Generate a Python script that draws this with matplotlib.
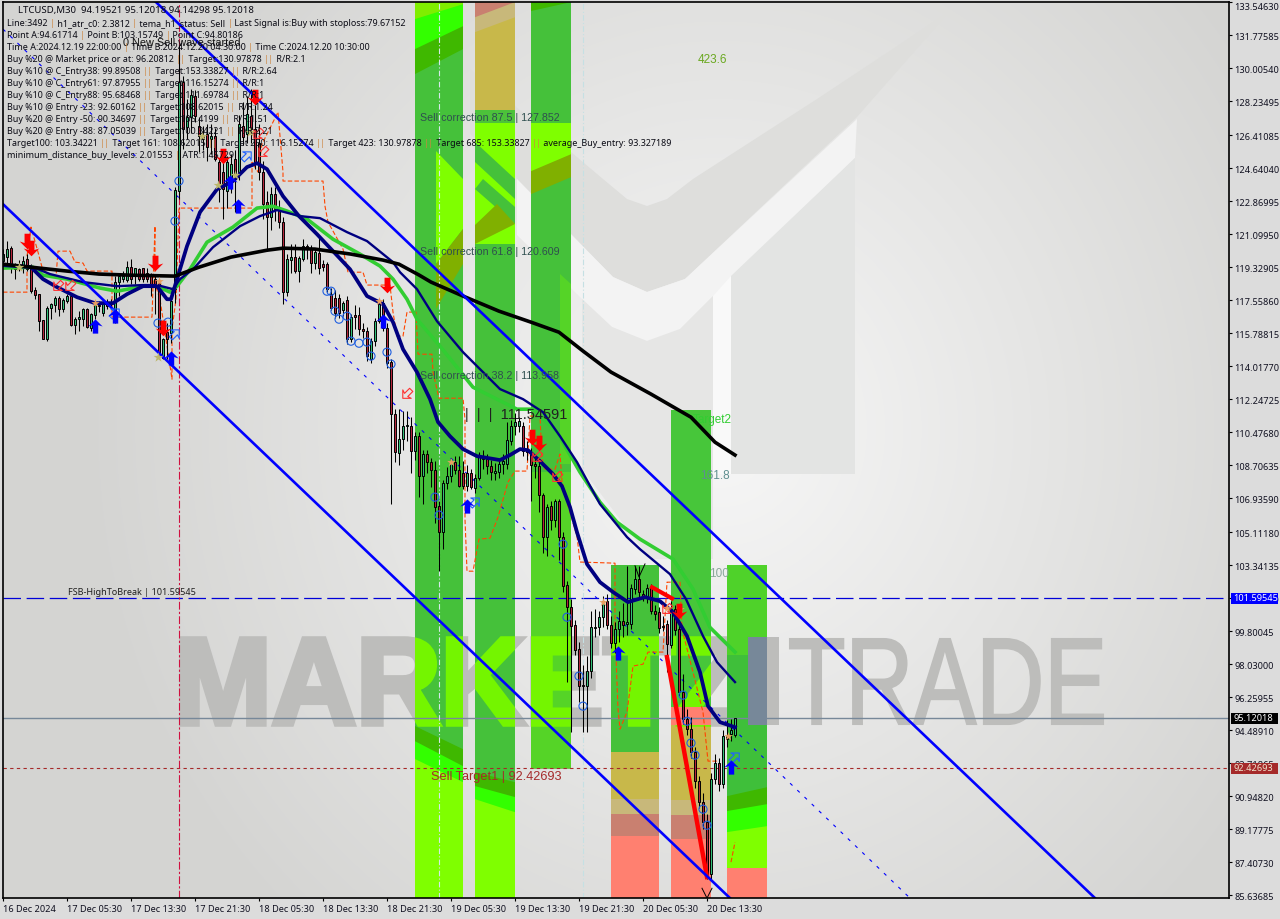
import re
import numpy as np
import matplotlib
matplotlib.use('Agg')
import matplotlib.pyplot as plt
from matplotlib.font_manager import FontProperties
from matplotlib.patches import PathPatch, Polygon, Rectangle
from matplotlib.path import Path
from matplotlib.textpath import TextPath
from matplotlib.transforms import Affine2D

W, H = 1280, 920
UI_FONT = 'Noto Sans'

# candles, one per M30 bar
opens = [119.66,119.84,120.37,119.48,119.3,119.3,119.75,119.3,118.1,117.87,
         116.47,115.45,117.15,117.28,117.65,117.06,117.51,117.78,116.2,116.53,
         116.56,117.06,116.08,116.74,117.28,116.88,117.42,117.33,116.97,118.53,
         118.68,118.64,119.35,118.94,119.21,119.25,119.03,118.89,118.68,118.5,
         114.47,115.85,115.81,118.14,123.4,129.25,126.83,127.37,128.5,126.9,
         126.35,126.46,126.2,126.35,124.95,124.4,123.4,124.0,125.1,124.4,
         126.9,126.46,127.42,126.73,126.0,124.4,122.8,122.0,123.24,122.43,
         121.74,117.98,119.71,119.84,119.12,119.75,120.46,120.29,119.57,120.07,
         119.48,119.48,117.87,117.69,117.69,117.0,117.55,115.45,116.74,116.74,
         115.99,115.9,114.38,115.36,116.44,117.42,116.08,114.22,111.44,109.34,
         110.09,110.8,110.79,109.45,110.25,108.1,109.29,108.86,108.43,106.5,
         105.1,107.73,108.1,108.86,108.43,108.3,107.57,108.27,107.46,108.0,
         109.18,109.02,108.65,108.3,108.32,108.75,108.75,110.0,110.79,110.79,
         110.79,109.55,109.4,108.75,108.65,107.1,104.84,106.5,105.75,106.77,
         104.84,102.26,101.08,100.12,98.82,96.9,96.84,97.65,99.95,100.0,
         100.54,101.4,100.12,99.15,99.9,100.33,100.2,100.2,102.05,102.58,
         101.8,101.6,102.1,100.87,100.8,100.0,100.17,99.04,100.97,99.9,
         96.52,95.07,94.54,93.3,91.74,90.62,89.55,86.76,91.85,92.71,
         91.6,94.0,94.3,94.195]
closes = [120.0,120.29,119.48,119.21,119.48,119.66,119.21,118.05,117.82,116.44,
          115.49,117.15,117.33,117.69,117.1,117.56,117.78,116.2,116.56,116.62,
          117.06,116.13,116.8,117.33,117.24,117.33,117.24,117.42,118.53,118.82,
          118.82,119.35,118.68,119.25,118.68,118.68,118.68,118.35,118.32,114.56,
          115.49,115.49,117.51,123.45,129.25,126.73,127.37,128.55,127.42,126.35,
          126.2,125.76,126.35,125.12,123.5,123.5,124.95,124.85,124.2,127.0,
          126.3,127.53,126.73,124.95,124.4,122.7,122.0,123.24,122.43,121.74,
          117.98,119.75,119.84,119.12,119.8,120.46,120.29,119.57,120.11,119.3,
          119.33,118.14,117.15,116.88,116.88,117.42,115.45,116.62,116.62,115.99,
          115.9,114.56,115.36,116.44,117.33,116.08,114.2,111.44,109.4,110.09,
          110.79,110.85,109.45,110.25,108.1,109.29,108.86,108.43,106.45,105.1,
          107.73,108.1,108.86,108.43,107.57,107.57,108.3,107.5,108.0,109.18,
          109.02,108.65,108.32,108.4,108.75,108.9,110.04,110.79,111.0,111.06,
          109.45,109.4,108.7,108.65,107.1,104.84,106.45,105.75,106.77,104.84,
          102.2,101.08,100.06,98.77,96.84,96.84,97.65,100.0,100.0,100.54,
          101.4,100.12,99.15,99.9,100.33,100.12,100.3,102.1,102.58,101.89,
          101.65,102.1,100.87,100.7,99.95,100.06,99.1,100.97,99.85,96.52,
          95.07,94.54,93.3,91.74,90.62,89.55,86.76,91.85,92.71,91.6,
          94.16,94.16,94.5,95.12]
highs = [120.3,120.73,120.46,119.57,119.7,119.9,120.02,119.48,118.23,117.87,
         116.47,117.24,117.42,117.78,117.78,117.64,117.87,117.87,116.62,116.97,
         117.15,117.15,116.88,117.42,117.5,117.51,117.6,117.6,118.85,119.0,
         119.12,119.66,119.75,119.3,119.3,119.3,119.25,119.0,118.82,118.68,
         115.54,116.35,117.6,123.6,131.23,129.6,128.34,128.9,128.8,127.4,
         126.9,127.0,127.0,126.8,125.2,125.3,125.3,125.4,125.6,127.5,
         128.2,128.5,128.9,128.0,127.0,125.0,123.4,123.6,123.6,122.9,
         122.0,120.0,120.55,120.55,119.9,120.82,120.55,120.5,120.3,120.9,
         119.7,119.6,118.2,118.1,117.9,117.5,117.8,116.8,117.3,117.2,
         116.3,116.1,115.5,116.6,117.6,117.6,116.3,114.4,111.7,111.7,
         111.6,111.6,111.3,110.5,110.5,109.5,109.5,109.1,108.9,106.8,
         107.9,108.6,109.1,109.2,109.2,108.9,108.7,108.5,108.2,109.4,
         109.5,109.3,109.0,108.8,109.0,109.3,111.0,111.1,111.5,111.3,
         111.0,110.0,109.6,109.2,108.9,107.2,106.6,106.8,106.9,106.9,
         105.1,102.5,101.5,100.4,99.2,98.0,98.45,100.9,101.0,100.9,
         101.7,101.8,100.6,100.3,100.9,101.3,103.3,102.3,103.3,103.3,
         102.0,102.3,102.3,101.2,101.1,100.6,100.4,101.4,101.2,100.2,
         97.5,95.6,95.2,93.6,92.0,91.1,90.0,92.2,93.2,93.0,
         94.5,95.0,95.1,95.12]
lows = [119.3,119.57,119.0,118.68,119.1,119.0,119.12,117.96,117.6,115.9,
        115.45,115.36,116.53,116.9,116.7,116.9,117.42,116.17,115.72,115.9,
        116.17,116.08,115.9,116.53,116.9,116.7,117.1,117.15,116.35,117.78,
        118.5,118.5,118.41,118.41,118.58,118.5,118.5,117.78,116.8,114.38,
        114.38,114.38,115.27,117.4,123.0,125.65,126.2,126.5,127.1,125.5,
        125.6,125.0,125.4,125.0,122.8,121.9,122.5,123.3,122.3,124.0,
        125.9,126.0,126.0,124.6,124.0,121.9,120.2,121.3,121.8,121.4,
        117.33,117.8,119.0,119.03,118.5,119.66,119.75,119.03,119.2,118.94,
        119.1,118.0,117.0,116.6,116.6,116.7,115.2,115.3,116.0,115.7,
        115.5,114.3,114.2,115.1,116.3,115.9,113.9,106.6,108.86,108.7,
        109.5,110.0,108.3,109.0,107.0,106.6,108.3,107.5,105.6,103.0,
        104.2,107.4,107.8,108.2,107.5,107.4,107.3,107.4,107.2,107.9,
        108.5,108.2,107.9,107.9,108.0,108.2,108.5,109.8,110.3,110.5,
        109.2,109.0,106.8,108.0,106.2,104.0,103.8,105.2,105.4,103.6,
        101.9,97.06,94.4,98.5,96.0,94.4,94.4,97.3,99.5,99.6,
        100.0,99.9,98.9,98.6,99.2,99.5,99.6,99.9,101.8,101.6,
        101.4,101.3,100.7,100.4,99.7,99.8,97.6,98.9,99.6,96.3,
        94.8,94.2,93.0,91.4,90.3,89.2,86.5,86.5,91.6,91.2,
        91.4,93.6,93.9,94.14]

# moving averages: bar number, price
black_ma_x = [0,7,16,24,32,43,49,57,66,70,78,87,95,99,104,107,115,124,132,139,145,152,162,172,178,183]
black_ma_y = [119.48,119.32,119.11,118.95,118.89,118.84,119.32,119.86,120.23,120.34,120.29,120.02,119.7,
              119.48,118.9,118.52,117.77,116.96,116.37,115.83,114.82,113.69,112.51,111.27,109.93,109.24]
fast_ma_x = [0,7,10,13.5,18.5,23,27.5,31,35,38.5,41,42,43.5,46,49.25,53.5,57.5,61,63.5,66,70,74,78.5,82.5,86.75,
             91,95,97.5,100,103.5,106.75,108.75,111.75,115,118.5,124.25,126.75,129.25,131.25,134.25,137.5,139.75,
             141.75,143.5,146,149.25,152.5,156.25,160.5,164.25,167.5,171,174.25,176.25,179.25,183]
fast_ma_y = [119.43,119.32,118.68,118.25,117.71,117.39,117.39,117.87,118.3,118.3,117.6,117.6,118.68,120.45,122.27,
             123.5,123.94,124.69,124.9,124.58,123.13,122.06,121.09,120.18,119.21,117.77,117.34,116.37,114.92,113.69,
             112.24,111.01,110.25,109.56,109.18,108.97,109.24,109.56,109.5,108.91,108.22,107.57,106.45,105.1,103.39,
             102.42,101.89,101.35,101.62,101.4,100.81,99.53,97.59,95.77,94.91,94.64]
slow_ma_x = [0,7.5,11.75,20,28.5,35,38.5,42.5,44.25,47.5,52.5,59.25,64.25,68.5,74.25,79.25,86,91,97.5,99.25,103.5,
             108.5,115,124.25,130,135,139.25,143.5,149.25,156,159.25,166.75,170.75,175,178.5,183]
slow_ma_y = [119.48,119.32,118.95,118.52,118.3,118.36,118.36,118.14,118.68,119.21,120.39,121.52,122.06,122.38,122.06,
             121.95,121.2,120.72,119.59,119.05,118.14,116.42,114.76,112.78,112.24,111.54,110.25,108.86,106.61,104.84,
             104.19,102.85,101.51,99.53,98.13,97.06]
green_ma_x = [0,7.5,10,16,24.25,28.5,35,38.5,41.75,43.5,46.75,51,57.5,63.5,67.5,71,76,82.5,89.25,94.25,97.5,101,103.5,
              109.25,117.5,128.5,132.5,138.5,144.25,149.25,153.5,159.25,167.5,172.5,176.75,183]
green_ma_y = [119.27,119.32,118.89,118.68,118.2,118.03,118.3,118.3,117.98,118.3,119.21,120.66,121.47,122.49,122.59,
              122.33,121.9,120.82,120.02,119.38,118.68,117.6,116.53,115.08,112.88,111.7,111.7,110.47,108.32,106.71,
              105.64,104.73,103.66,102.05,99.99,98.67]

# stepped dashed signal line
signal_x = [0,6,6,7,8.75,9.75,11.75,13.25,13.75,16.75,18,20,21,27.25,27.25,37.25,38,38,39.25,42.25,42.25,43.25,44,62.25,
            62.25,63.75,64.75,68.75,70,70,80,80.5,81.25,85,86.25,90,91,96.75,97.5,98.5,100,101,103.25,103.75,107.25,
            107.5,109,115,115.5,115.5,116,117.5,119,121.75,123.75,126.25,128,131,131.75,134.25,134.75,135.5,138,139.25,
            139.75,141,143.5,144.25,153,153,153.75,154.25,156,157.5,160,161.25,165,166,169.25,169.75,172.5,175,176.25,179.25]
signal_y = [117.98,117.98,119.91,121.47,120.13,119.32,118.79,118.79,120.18,120.18,119.59,119.54,119.11,119.11,116.64,
            116.64,121.52,118.41,117.6,113.31,115.99,117.6,122.49,122.49,124.95,124.42,125.92,127.64,124.42,123.94,
            123.94,122.59,121.74,120.29,119.05,119.05,118.36,118.36,116.91,115.62,115.62,116.91,116.91,114.65,114.65,
            113.69,112.29,112.29,111.17,105.8,103.01,103.01,104.73,104.78,105.91,107.79,108.38,108.38,111.33,111.33,
            109.02,108.48,108.48,109.29,107.84,106.71,104.89,103.5,103.44,99.9,95.61,94.54,95.45,97.92,98.02,98.67,
            98.67,102.42,102.42,99.9,97.59,95.45,92.82,92.82]
signal2_x = [182, 183]
signal2_y = [87.4, 88.47]

# channel lines
upper_x, upper_y = [38.25, 273], [133.54, 85.47]
lower_x, lower_y = [0, 181.75], [122.7, 85.47]
mid_x, mid_y = [0, 226.75], [132.09, 85.47]
wave_x1, wave_y1 = [162.25, 167.25], [102.15, 101.55]
wave_x2, wave_y2 = [166, 176], [98.4, 86.6]

# markers: bar, price
sell_x = [6,7,38,40,55,63,96,132.25,134,169]
sell_y = [120.72,120.34,119.54,116.05,125.28,128.44,118.36,110.2,109.88,100.87]
buy_x = [23,28,42,58.75,56.75,95,116,153.75,182]
buy_y = [116.16,116.69,114.44,122.59,123.88,116.42,106.5,98.61,92.5]
star_x = [4,38.75,49.75,61.75,53.75,58]
star_y = [119.32,114.49,126.35,126.56,123.72,124.26]
cross_x = [23,39,94,112,150,166,169.25,181.25]
cross_y = [117.39,118.57,117.5,108.86,101.35,101.03,100.97,94.16]
circle_x = [81,82,83,84,86,87,89,91,92,96,97,38.75,41.25,44,43,108,109,140,141,144,145,170,171,172,173,175,176]
circle_y = [118.03,118.03,116.96,116.53,116.69,115.35,115.24,115.3,114.55,114.76,114.12,116.32,116.37,123.94,121.79,
            106.98,106.02,104.46,100.54,97.38,95.77,96.36,94.96,93.79,93.14,90.24,89.38]
open_buy_x = [43,61,118,183,28]
open_buy_y = [115.73,125.28,106.71,93.03,116.85]
open_sell_x = [13.75,16.75,101,63.75,65,166,133.5,138.5]
open_sell_y = [118.3,118.3,112.51,126.46,125.49,100.97,109.13,108.05]

# the coloured bands: left bar, right bar, top price, bottom price,
# then (price at left, price at right, colour) from the top down
band_bars = [(103,115),(118,128),(132,142),(152,164),(167,177),(181,191)]
band_tops = [133.55,133.55,133.55,103.33,111.65,103.33]
band_bottoms = [85.47,85.47,92.43,85.47,85.47,85.47]
band_zones = [
    [(133.55,133.55,'#80ee00'),(132.63,133.43,'#33ff00'),(131.02,132.25,'#3fb800'),(129.68,131.02,'#45c13a'),
     (94.7,93.46,'#3fb800'),(93.89,92.55,'#33ff00'),(92.93,91.69,'#7fff00')],
    [(133.55,133.55,'#c98070'),(132.73,133.54,'#c8b87a'),(131.93,132.73,'#c8b84a'),(127.74,127.74,'#4cc23a'),
     (127.05,127.05,'#7fff00'),(120.56,120.56,'#45c13a'),(92.23,91.69,'#3fb800'),(91.48,90.89,'#33ff00'),(90.78,90.08,'#7fff00')],
    [(133.55,133.55,'#3fb800'),(133.06,133.54,'#45c13a'),(127.05,127.05,'#7fff00'),(124.47,125.38,'#80b000'),
     (123.24,124.15,'#45c13a'),(108.32,108.32,'#55d427')],
    [(103.33,103.33,'#45c13a'),(93.3,93.3,'#c8b84a'),(90.78,90.78,'#c8b87a'),(89.98,89.98,'#c98070'),(88.8,88.8,'#ff8070')],
    [(111.65,111.65,'#47c63a'),(95.72,95.72,'#ff8070'),(94.75,94.75,'#c8b84a'),(90.73,90.73,'#c8b87a'),
     (89.92,89.92,'#c98070'),(88.63,88.63,'#ff8070')],
    [(103.33,103.33,'#4fd22a'),(98.5,98.5,'#3fbf3a'),(90.94,91.42,'#3fb800'),(90.14,90.51,'#33ff00'),
     (89.01,89.33,'#7fff00'),(87.08,87.08,'#ff8070')],
]

y_tick_labels = ['133.54630','131.77585','130.00540','128.23495','126.41085','124.64040','122.86995','121.09950',
                 '119.32905','117.55860','115.78815','114.01770','112.24725','110.47680','108.70635','106.93590',
                 '105.11180','103.34135','101.57090','99.80045','98.03000','96.25955','94.48910','92.71865',
                 '90.94820','89.17775','87.40730','85.63685']
x_tick_labels = ['16 Dec 2024','17 Dec 05:30','17 Dec 13:30','17 Dec 21:30','18 Dec 05:30','18 Dec 13:30',
                 '18 Dec 21:30','19 Dec 05:30','19 Dec 13:30','19 Dec 21:30','20 Dec 05:30','20 Dec 13:30']

info_lines = [
    'Line:3492 | h1_atr_c0: 2.3812 | tema_h1_status: Sell | Last Signal is:Buy with stoploss:79.67152',
    'Point A:94.61714 | Point B:103.15749 | Point C:94.80186',
    'Time A:2024.12.19 22:00:00 | Time B:2024.12.20 04:30:00 | Time C:2024.12.20 10:30:00',
    'Buy %20 @ Market price or at: 96.20812 || Target:130.97878 || R/R:2.1',
    'Buy %10 @ C_Entry38: 99.89508 || Target:153.33827 || R/R:2.64',
    'Buy %10 @ C_Entry61: 97.87955 || Target:116.15274 || R/R:1',
    'Buy %10 @ C_Entry88: 95.68468 || Target:111.69784 || R/R:1',
    'Buy %10 @ Entry -23: 92.60162 || Target:108.62015 || R/R:1.24',
    'Buy %20 @ Entry -50: 90.34697 || Target:106.4199 || R/R:1.51',
    'Buy %20 @ Entry -88: 87.05039 || Target:100.34221 || R/R:2.21',
    'Target100: 103.34221 || Target 161: 108.62015 || Target 250: 116.15274 || Target 423: 130.97878 || Target 685: 153.33827 || average_Buy_entry: 93.327189',
    'minimum_distance_buy_levels: 2.01553 | ATR:1.45729',
]

fig = plt.figure(figsize=(W / 100, H / 100), dpi=100, facecolor='#dcdcdc')
ax = fig.add_axes([3 / W, 1 - 899 / H, (1229 - 3) / W, (899 - 3) / H])
x_max, y_min, y_max = 306.5, 85.476, 133.546

# pixels of the picture, for the watermark that has no price meaning
pix = Affine2D().scale(1, -1).translate(0, H)

# background glow
gy, gx = np.mgrid[3:899, 3:1229]
r = np.clip(np.hypot((gx - 720) / 640, (gy - 430) / 680), 0, 1)
shade = 247 - 35 * r
bg = np.dstack([shade, shade, shade - 2 * r]) / 255
ax.imshow(bg, extent=(0, x_max, y_min, y_max), aspect='auto', zorder=0, interpolation='bilinear')

# logo in the background
logo = [
    ([(470,70),(571,153),(603,180),(627,200),(647,207),(667,200),(693,180),(817,100),(950,12),(857,118),
      (685,280),(647,293),(613,278),(517,180),(470,135)], '#dededc'),
    ([(517,180),(613,278),(647,293),(685,280),(857,120),(855,159),(713,297),(680,330),(647,342),(612,328),(582,300),(517,236)], '#f3f3f3'),
    ([(582,300),(612,328),(647,342),(680,330),(713,297),(713,560),(650,560),(582,470)], '#e6e6e5'),
    ([(713,297),(731,277),(731,475),(713,475)], '#f9f9f9'),
    ([(731,277),(855,159),(855,475),(731,475)], '#e3e4e3'),
]
for pts, col in logo:
    ax.add_patch(Polygon(pts, closed=True, facecolor=col, edgecolor='none', transform=pix, zorder=1))


def fit_text(text, weight, x0, x1, ytop, ybot):
    tp = TextPath((0, 0), text, size=100, prop=FontProperties(family='Liberation Sans', weight=weight))
    bb = tp.get_extents()
    tr = Affine2D().translate(-bb.x0, -bb.y0).scale((x1 - x0) / bb.width, (ybot - ytop) / bb.height)
    return tp.transformed(tr.translate(x0, H - ybot))


wm_left = fit_text('MARKETZ', 'bold', 182, 743, 640, 725)
wm_right = fit_text('TRADE', 'normal', 790, 1103, 640, 725)
ax.add_patch(PathPatch(wm_left, facecolor='#bdbdbb', edgecolor='#bdbdbb', lw=4, transform=None, zorder=1.5))
ax.add_patch(PathPatch(wm_right, facecolor='#bdbdbb', edgecolor='#bdbdbb', lw=1.5, transform=None, zorder=1.5))
ax.add_patch(Rectangle((748, 638), 31, 88, facecolor='#bdbdbb', edgecolor='none', transform=pix, zorder=1.5))

# bands
rects = []
for (left, right), top, bottom, zones in zip(band_bars, band_tops, band_bottoms, band_zones):
    for pl, pr, col in zones:
        pl, pr = min(pl, top), min(pr, top)
        ax.fill([left, right, right, left], [pl, pr, bottom, bottom], color=col, lw=0, zorder=2)
    rects.append(Path([(left, bottom), (right, bottom), (right, top), (left, top), (left, bottom)], closed=True))
band_clip = Path.make_compound_path(*rects)
text_clip = Path.make_compound_path(*rects[:5])

# where logo and watermark run under a band the colours flip
band_logo = [
    ([(436,152),(463,180),(463,230),(436,265)], '#7fff00'),
    ([(436,265),(463,230),(463,265),(436,310)], '#80b000'),
    ([(475,143),(515,180),(515,200),(475,163)], '#45c13a'),
    ([(483,180),(515,208),(515,225),(475,190)], '#45c13a'),
    ([(475,226),(497,205),(515,225),(475,245)], '#80b000'),
    ([(560,275),(571,285),(571,465),(560,465)], '#55d427'),
]
for pts, col in band_logo:
    patch = ax.add_patch(Polygon(pts, closed=True, facecolor=col, edgecolor='none', transform=pix, zorder=2.2))
    patch.set_clip_path(band_clip, transform=ax.transData)
patch = ax.add_patch(PathPatch(wm_left, facecolor='#74f500', edgecolor='#74f500', lw=4, transform=None, zorder=2.3))
patch.set_clip_path(text_clip, transform=ax.transData)
ax.add_patch(Rectangle((671, 708), 40, 18, facecolor='#ff8070', edgecolor='none', transform=pix, zorder=2.35))
ax.add_patch(Rectangle((748, 638), 19, 88, facecolor='#778899', edgecolor='none', transform=pix, zorder=2.4))

# levels and time separators
ax.axhline(101.59545, color='#0000d8', lw=0.9, dashes=(14, 4.5), zorder=3)
ax.axhline(95.12018, color='#778899', lw=1.0, zorder=3)
ax.axhline(92.42693, color='#a52a2a', lw=0.8, dashes=(3, 3), zorder=3)
ax.axvline(44, color='#d01040', lw=0.8, dashes=(7, 2, 2, 2), zorder=3)
ax.axvline(109, color='#d6e8ea', lw=0.8, dashes=(5, 2, 1, 2), zorder=3)
ax.axvline(145, color='#c5e0e3', lw=0.8, dashes=(5, 2, 1, 2), zorder=3)

ax.plot(mid_x, mid_y, color='#0000ff', lw=0.8, dashes=(3, 6), zorder=3.5)
ax.plot(signal_x, signal_y, color='#ff4500', lw=0.8, dashes=(4, 2), zorder=3.6)
ax.plot(signal2_x, signal2_y, color='#ff4500', lw=0.8, dashes=(4, 2), zorder=3.6)
ax.plot(upper_x, upper_y, color='#0000ff', lw=1.9, zorder=6)
ax.plot(lower_x, lower_y, color='#0000ff', lw=1.9, zorder=6)

# candles
bars = np.arange(len(opens))
o = np.array(opens)
c = np.array(closes)
ax.vlines(bars, lows, highs, color='black', lw=0.75, zorder=4)
cols = np.where(c >= o, '#33c078', '#b5263c')
ax.bar(bars, np.maximum(np.abs(c - o), 0.04), bottom=np.minimum(o, c), width=0.62, color=cols,
       edgecolor='black', lw=0.7, zorder=4.2)

ax.plot(green_ma_x, green_ma_y, color='#32cd32', lw=2.6, solid_joinstyle='round', zorder=5)
ax.plot(slow_ma_x, slow_ma_y, color='#000080', lw=1.7, solid_joinstyle='round', zorder=5.1)
ax.plot(fast_ma_x, fast_ma_y, color='#000080', lw=2.7, solid_joinstyle='round', zorder=5.2)
ax.plot(black_ma_x, black_ma_y, color='black', lw=2.6, solid_joinstyle='round', zorder=5.3)

ax.plot(wave_x1, wave_y1, color='#ff0000', lw=3, zorder=5.5)
ax.plot(wave_x2, wave_y2, color='#ff0000', lw=3.2, zorder=5.5)

# fractal marks
ax.plot([158, 159, 160.5], [103.3, 102.7, 103.4], color='black', lw=0.7, zorder=4)
ax.plot([174.75, 176, 177.25], [86.0, 85.47, 86.0], color='black', lw=0.7, zorder=4)

# arrow shaped markers
arrow = Path([(0,1),(1,0),(0.38,0.2),(0.38,-1),(-0.38,-1),(-0.38,0.2),(-1,0),(0,1)], closed=True)
down_arrow = arrow.transformed(Affine2D().rotate_deg(180))
open_up = arrow.transformed(Affine2D().rotate_deg(-45))
open_down = arrow.transformed(Affine2D().rotate_deg(135))
ax.scatter(open_buy_x, open_buy_y, marker=open_up, s=70, facecolors='none', edgecolors='#2060ff', linewidths=0.8, zorder=7)
ax.scatter(open_sell_x, open_sell_y, marker=open_down, s=70, facecolors='none', edgecolors='#ff3030', linewidths=0.8, zorder=7)
ax.scatter(sell_x, sell_y, marker=down_arrow, s=125, color='#ff0000', lw=0, zorder=7.1)
ax.scatter(buy_x, buy_y, marker=arrow, s=105, color='#0000ff', lw=0, zorder=7.1)
ax.scatter(star_x, star_y, marker='*', s=55, color='#bdb76b', lw=0, zorder=7)
ax.scatter(cross_x, cross_y, marker='*', s=42, color='#e9a060', lw=0, zorder=7)
ax.scatter(circle_x, circle_y, marker='o', s=34, facecolors='none', edgecolors='#1f5fe0', linewidths=0.8, zorder=7)

# chart labels
ax.text(104.25, 127.37, 'Sell correction 87.5 | 127.852', color='#2f4f4f', fontsize=7.7, family='Liberation Sans', va='center', zorder=8)
ax.text(104.25, 120.18, 'Sell correction 61.8 | 120.609', color='#2f4f4f', fontsize=7.7, family='Liberation Sans', va='center', zorder=8)
ax.text(104.25, 113.53, 'Sell correction 38.2 | 113.958', color='#2f4f4f', fontsize=7.7, family='Liberation Sans', va='center', zorder=8)
ax.text(115.5, 111.45, '|  |  |  111.54591', color='#202020', fontsize=10.5, family='Liberation Sans', va='center', zorder=8)
ax.text(107, 92.0, 'Sell Target1 | 92.42693', color='#a52a2a', fontsize=9.2, family='Liberation Sans', va='center', zorder=8)
ax.text(173.75, 130.5, '423.6', color='#6aa820', fontsize=8.5, family='Liberation Sans', va='center', zorder=8)
ax.text(172.5, 111.2, 'Target2', color='#32cd32', fontsize=8.5, family='Liberation Sans', va='center', zorder=3)
ax.text(174.25, 108.15, '161.8', color='#5f8f8f', fontsize=8.5, family='Liberation Sans', va='center', zorder=3)
ax.text(176.5, 102.9, '100', color='#8aa89a', fontsize=8.5, family='Liberation Sans', va='center', zorder=3)
ax.text(16.25, 101.92, 'FSB-HighToBreak | 101.59545', color='#202020', fontsize=6.5, family=UI_FONT, va='center', zorder=8)
ax.text(30, 131.4, '0 New Sell wave started', color='#111111', fontsize=7.8, family='Liberation Sans', va='center', zorder=8)

ax.set_xlim(0, x_max)
ax.set_ylim(y_min, y_max)
ax.set_xticks(np.arange(0, 16 * len(x_tick_labels), 16))
ax.set_xticklabels(x_tick_labels, ha='left', fontsize=6.6, family=UI_FONT, color='#101020')
ax.yaxis.tick_right()
ax.set_yticks([float(v) for v in y_tick_labels])
ax.set_yticklabels(y_tick_labels, fontsize=6.6, family=UI_FONT, color='#101020')
ax.tick_params(axis='both', length=2.5, width=0.8, pad=1.5, color='black')
ax.get_yticklabels()[0].set_verticalalignment('top')
for s in ax.spines.values():
    s.set_linewidth(1.2)
    s.set_color('black')
    s.set_zorder(20)


def info_text(x, y, line, size=6.45):
    # pipes come out in another colour on the chart
    rend = fig.canvas.get_renderer()
    for piece in re.split(r'(\|+)', line):
        if piece == '':
            continue
        col = '#cd853f' if piece[0] == '|' else '#0a0a14'
        t = fig.text(x / W, 1 - y / H, piece.replace(' ', '\u00a0'), fontsize=size, family=UI_FONT, color=col,
                     va='center', ha='left', zorder=10)
        x += t.get_window_extent(rend).width


info_text(18, 11, 'LTCUSD,M30  94.19521 95.12018 94.14298 95.12018', 6.9)
for k, line in enumerate(info_lines):
    info_text(7, 24 + 12 * k, line)

# price tags on the scale
for price_y, txt, col, fg in [(599, '101.59545', '#0000ff', 'white'), (719, '95.12018', 'black', 'white'),
                              (769, '92.42693', '#a52a2a', '#f0e6d0')]:
    fig.add_artist(Rectangle((1231 / W, 1 - (price_y + 5.5) / H), 47 / W, 11 / H, transform=fig.transFigure,
                             facecolor=col, edgecolor='none', zorder=9))
    fig.text(1233 / W, 1 - price_y / H, txt, fontsize=6.6, family=UI_FONT, color=fg, va='center', zorder=10)

fig.savefig('out.png', dpi=100, facecolor=fig.get_facecolor())
